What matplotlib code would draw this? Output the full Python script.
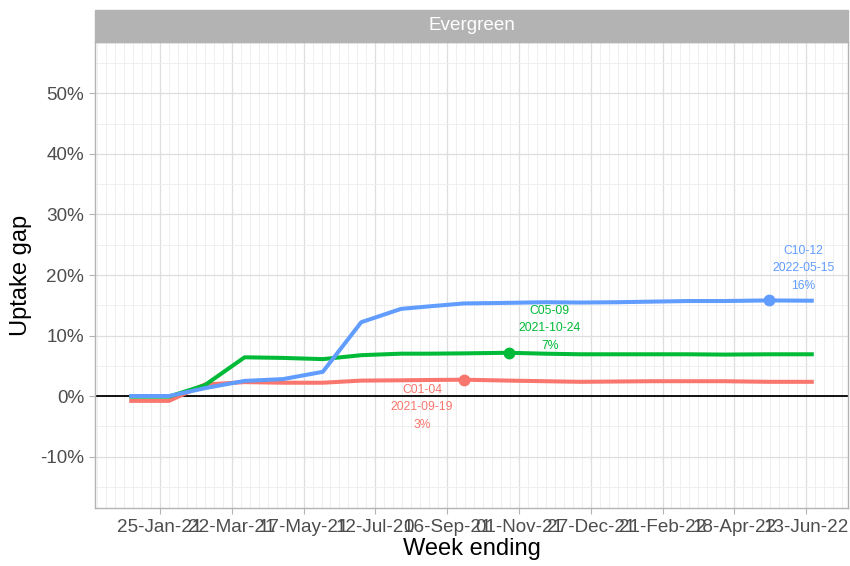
import matplotlib
matplotlib.use("Agg")
import matplotlib.pyplot as plt
import matplotlib.dates as mdates
import matplotlib.ticker as mticker
from matplotlib.patches import Rectangle
import pandas as pd

plt.rcParams["font.family"] = ["Liberation Sans", "DejaVu Sans"]
plt.rcParams["axes.unicode_minus"] = False

# week ending dates (monthly early on, then sparser readings of the flat part)
week_ending = pd.to_datetime([
    "2021-01-01", "2021-02-01", "2021-03-01", "2021-04-01", "2021-05-01",
    "2021-06-01", "2021-07-01", "2021-08-01", "2021-08-22", "2021-09-19",
    "2021-10-24", "2021-11-21", "2021-12-19", "2022-01-16", "2022-02-13",
    "2022-03-13", "2022-04-10", "2022-05-15", "2022-06-19",
])

# uptake gap per age group (fractions)
c01_04 = [-0.008, -0.008, 0.019, 0.023, 0.022, 0.022, 0.0255, 0.026, 0.0265, 0.027,
          0.0255, 0.0245, 0.0235, 0.024, 0.0245, 0.0245, 0.0245, 0.0235, 0.0235]
c05_09 = [-0.001, -0.001, 0.018, 0.064, 0.063, 0.061, 0.0675, 0.070, 0.070, 0.0705,
          0.0715, 0.070, 0.069, 0.069, 0.069, 0.069, 0.0685, 0.069, 0.069]
c10_12 = [0.0, 0.0, 0.013, 0.025, 0.028, 0.040, 0.122, 0.144, 0.148, 0.153,
          0.154, 0.155, 0.1545, 0.155, 0.156, 0.157, 0.157, 0.158, 0.1575]

groups = ["C01-04", "C05-09", "C10-12"]
series = [c01_04, c05_09, c10_12]
colours = ["#F8766D", "#00BA38", "#619CFF"]
peak_dates = ["2021-09-19", "2021-10-24", "2022-05-15"]
label_offsets = [(-30, -20), (29.5, 17.5), (25, 23)]  # points from the dot

x_breaks = pd.date_range("2021-01-25", "2022-06-13", freq="56D")
x_minor = pd.date_range("2020-12-07", "2022-07-18", freq="7D")

fig = plt.figure(figsize=(8.5, 5.66), dpi=100)
ax = fig.add_axes([95 / 850, 1 - 508 / 566, (848 - 95) / 850, (508 - 42) / 566])

ax.axhline(0, color="black", lw=1.3, zorder=2)

for name, vals, col, pdate, off in zip(groups, series, colours, peak_dates, label_offsets):
    ax.plot(week_ending, vals, color=col, lw=2.9, solid_capstyle="butt", zorder=3)
    i = list(week_ending).index(pd.Timestamp(pdate))
    ax.plot(week_ending[i], vals[i], "o", color=col, ms=7.5, zorder=4)
    txt = f"{name}\n{pdate}\n{round(vals[i] * 100):.0f}%"
    ax.annotate(txt, xy=(week_ending[i], vals[i]), xytext=off, textcoords="offset points",
                ha="center", va="center", fontsize=8.7, color=col, linespacing=1.6)

ax.margins(x=0.05)
ax.set_ylim(-0.185, 0.585)

ax.xaxis.set_major_locator(mticker.FixedLocator(mdates.date2num(x_breaks)))
ax.xaxis.set_minor_locator(mticker.FixedLocator(mdates.date2num(x_minor)))
ax.xaxis.set_major_formatter(mdates.DateFormatter("%d-%b-%y"))
ax.yaxis.set_major_locator(mticker.MultipleLocator(0.1))
ax.yaxis.set_minor_locator(mticker.FixedLocator([-0.15, -0.05, 0.05, 0.15, 0.25, 0.35, 0.45, 0.55]))
ax.yaxis.set_major_formatter(mticker.PercentFormatter(1.0, decimals=0))

ax.grid(which="major", color="#DEDEDE", lw=0.9, zorder=0)
ax.grid(which="minor", color="#EDEDED", lw=0.6, zorder=0)
ax.set_axisbelow(True)

ax.tick_params(which="major", length=4.2, width=0.8, color="#B3B3B3",
               labelsize=13.6, labelcolor="#4D4D4D", pad=3.5)
ax.tick_params(which="minor", length=0)
for s in ax.spines.values():
    s.set_color("#B3B3B3")
    s.set_linewidth(1.0)

ax.set_xlabel("Week ending", fontsize=17, labelpad=2)
ax.set_ylabel("Uptake gap", fontsize=17, labelpad=6)

# facet strip
strip_h = 32 / 466
ax.add_patch(Rectangle((0, 1), 1, strip_h, transform=ax.transAxes, facecolor="#B3B3B3",
                       edgecolor="#B3B3B3", lw=1.0, clip_on=False))
ax.text(0.5, 1 + strip_h / 2, "Evergreen", transform=ax.transAxes, ha="center", va="center",
        fontsize=13.6, color="white")

fig.savefig("out.png", dpi=100)
plt.close(fig)
